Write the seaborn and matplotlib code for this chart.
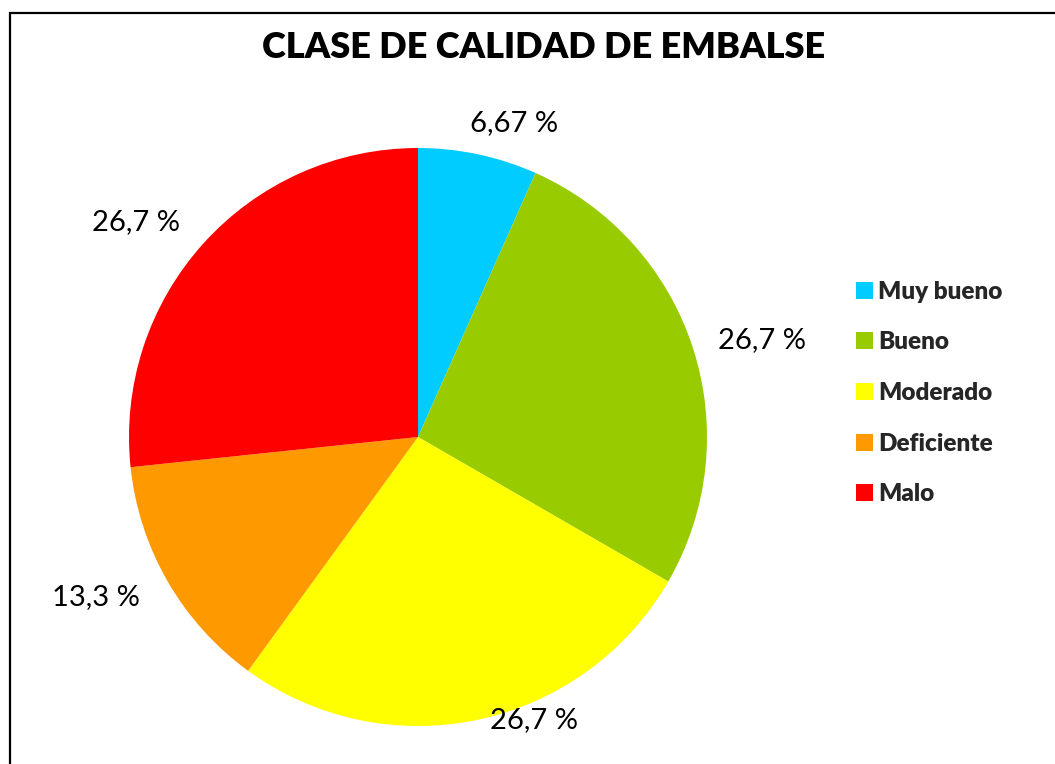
import numpy as np
import matplotlib
matplotlib.use("Agg")
import matplotlib.pyplot as plt
import matplotlib.patches as mpatches
import seaborn as sns

# --- Datos ---
categorias = ["Muy bueno", "Bueno", "Moderado", "Deficiente", "Malo"]
conteos = [1, 4, 4, 2, 4]
colores = ["#00CCFF", "#99CC00", "#FFFF00", "#FF9900", "#FF0000"]
titulo = "CLASE DE CALIDAD DE EMBALSE"

# --- Estilo ---
sns.set_style("white")
plt.rcParams["font.family"] = ["Lato", "DejaVu Sans"]
paleta = sns.color_palette(colores)

W, H = 1055, 764
fig = plt.figure(figsize=(W / 100, H / 100), dpi=100)

# marco del grafico (se corta a la derecha y abajo, como en el original)
fig.patches.append(mpatches.Rectangle((10 / W, -0.05), 1.2, 1.05 - 12.5 / H,
                                      transform=fig.transFigure, fill=False,
                                      edgecolor="black", linewidth=1.6))

cx, cy, r = 418, 437, 289
ax = fig.add_axes([(cx - r) / W, (H - cy - r) / H, 2 * r / W, 2 * r / H])

total = sum(conteos)
pct = [100 * c / total for c in conteos]
etiquetas = [f"{p:.3g} %".replace(".", ",") for p in pct]

wedges, _ = ax.pie(conteos, colors=paleta, startangle=90, counterclock=False,
                   radius=1, wedgeprops=dict(linewidth=0))
ax.set_xlim(-1, 1)
ax.set_ylim(-1, 1)
ax.axis("off")

# posicion de las etiquetas de porcentaje (desplazamiento x fino por etiqueta)
distancias = [1.11, 1.09, 1.0, 1.11, 1.11]
ajuste_x = [-0.05, 0.0, 0.04, 0.0, 0.0]
for w, txt, d, dx in zip(wedges, etiquetas, distancias, ajuste_x):
    ang = np.deg2rad((w.theta1 + w.theta2) / 2)
    x, y = d * np.cos(ang) + dx, d * np.sin(ang)
    ax.text(x, y, txt, ha="left" if x > 0 else "right", va="center",
            fontsize=21, color="black", clip_on=False)

fig.text(544 / W, 1 - 48 / H, titulo, ha="center", va="center",
         fontsize=26, fontweight="heavy", color="black")

handles = [mpatches.Patch(facecolor=c, edgecolor="none") for c in paleta]
fig.legend(handles, categorias, loc="center left",
           bbox_to_anchor=(834 / W, 1 - 393 / H), frameon=False,
           prop=dict(size=17.5, weight="heavy"), handlelength=0.7,
           handleheight=0.7, handletextpad=0.2, labelspacing=1.18)

fig.savefig("out.png", dpi=100)
